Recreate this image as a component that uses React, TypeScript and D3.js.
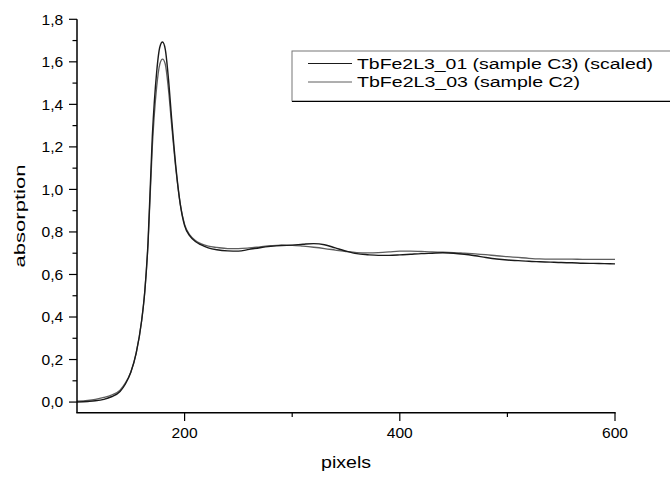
import * as d3 from "d3";

const xs = [100, 110, 117, 125, 132, 140, 145, 150, 155, 160, 163, 166, 170, 174, 177, 179.5, 182, 185, 188, 192, 196, 200, 205, 210, 215, 222, 230, 240, 250, 260, 270, 280, 290, 300, 310, 320, 330, 340, 350, 360, 370, 380, 390, 400, 410, 420, 430, 440, 450, 460, 470, 480, 490, 500, 510, 520, 530, 540, 550, 560, 570, 580, 590, 600];

const scaledC3 = [0.0, 0.003, 0.006, 0.013, 0.025, 0.05, 0.085, 0.14, 0.23, 0.38, 0.52, 0.75, 1.25, 1.55, 1.67, 1.693, 1.66, 1.52, 1.33, 1.1, 0.93, 0.83, 0.78, 0.755, 0.74, 0.725, 0.716, 0.711, 0.71, 0.718, 0.726, 0.732, 0.736, 0.738, 0.742, 0.745, 0.74, 0.725, 0.71, 0.698, 0.693, 0.69, 0.69, 0.692, 0.695, 0.698, 0.7, 0.702, 0.7, 0.695, 0.688, 0.68, 0.673, 0.668, 0.665, 0.662, 0.66, 0.658, 0.656, 0.655, 0.653, 0.652, 0.651, 0.65];

const sampleC2 = [0.004, 0.008, 0.013, 0.022, 0.033, 0.056, 0.09, 0.14, 0.23, 0.38, 0.52, 0.74, 1.2, 1.48, 1.59, 1.613, 1.59, 1.47, 1.3, 1.09, 0.93, 0.835, 0.785, 0.76, 0.745, 0.733, 0.727, 0.722, 0.722, 0.725, 0.73, 0.735, 0.738, 0.737, 0.733, 0.728, 0.722, 0.715, 0.708, 0.703, 0.702, 0.703, 0.706, 0.71, 0.71, 0.708, 0.706, 0.705, 0.703, 0.7, 0.697, 0.693, 0.688, 0.684, 0.68, 0.676, 0.673, 0.672, 0.672, 0.672, 0.671, 0.671, 0.671, 0.671];

const yTicks = [0, 0.2, 0.4, 0.6, 0.8, 1.0, 1.2, 1.4, 1.6, 1.8];
const xTicks = [200, 400, 600];
const seriesNames = ["TbFe2L3_01 (sample C3) (scaled)", "TbFe2L3_03 (sample C2)"];
// the source text is drawn wider than a plain Arial run, so widths are pinned
const legendWidths = [296, 223];

const font = "'Liberation Sans', Arial, sans-serif";

export default function App() {
  const x = d3.scaleLinear().domain([100, 600]).range([77, 615]);
  const y = d3.scaleLinear().domain([-0.05, 1.8]).range([412.7, 19.3]);

  const line = (vals: number[]) =>
    d3
      .line<number>()
      .x((_, i) => x(xs[i]))
      .y((v) => y(v))
      .curve(d3.curveMonotoneX)(vals) || "";

  const minorY = d3.range(0.1, 1.8, 0.2);
  const minorX = [300, 500];

  return (
    <svg width={670} height={479} style={{ position: "absolute", left: 0, top: 0 }} fontFamily={font}>
      <rect width={670} height={479} fill="#fff" />
      {/* data */}
      <path d={line(sampleC2)} fill="none" stroke="#5e5e5e" strokeWidth={1.3} />
      <path d={line(scaledC3)} fill="none" stroke="#1a1a1a" strokeWidth={1.4} />

      {/* y axis */}
      <line x1={77} x2={77} y1={y(1.8)} y2={y(-0.05)} stroke="#000" strokeWidth={1.5} />
      {yTicks.map((t) => (
        <g key={t}>
          <line x1={69} x2={77} y1={y(t)} y2={y(t)} stroke="#000" strokeWidth={1.2} />
          <text x={63.3} y={y(t)} dy="0.36em" textAnchor="end" fontSize={14.5} textLength={21.7} lengthAdjust="spacingAndGlyphs">
            {t.toFixed(1).replace(".", ",")}
          </text>
        </g>
      ))}
      {minorY.map((t) => (
        <line key={t} x1={72.5} x2={77} y1={y(t)} y2={y(t)} stroke="#000" strokeWidth={1.2} />
      ))}
      <text
        transform={`translate(25,${(y(1.8) + y(-0.05)) / 2}) rotate(-90)`}
        textAnchor="middle"
        fontSize={15.5}
        textLength={103}
        lengthAdjust="spacingAndGlyphs"
      >
        absorption
      </text>

      {/* x axis */}
      <line x1={76.3} x2={615.7} y1={412.7} y2={412.7} stroke="#000" strokeWidth={1.5} />
      {xTicks.map((t) => (
        <g key={t}>
          <line x1={x(t)} x2={x(t)} y1={412.7} y2={421} stroke="#000" strokeWidth={1.2} />
          <text x={x(t)} y={438} textAnchor="middle" fontSize={14.5} textLength={26} lengthAdjust="spacingAndGlyphs">
            {t}
          </text>
        </g>
      ))}
      {minorX.map((t) => (
        <line key={t} x1={x(t)} x2={x(t)} y1={412.7} y2={417} stroke="#000" strokeWidth={1.2} />
      ))}
      <text x={346} y={468} textAnchor="middle" fontSize={16} textLength={50} lengthAdjust="spacingAndGlyphs">
        pixels
      </text>

      {/* legend */}
      <rect x={292} y={51} width={400} height={50} fill="#fff" stroke="#777" strokeWidth={1} />
      <line x1={292} x2={670} y1={101.5} y2={101.5} stroke="#000" strokeWidth={1.2} />
      {seriesNames.map((name, i) => (
        <g key={name}>
          <line x1={308} x2={352} y1={63.5 + i * 18.5} y2={63.5 + i * 18.5} stroke={i === 0 ? "#1a1a1a" : "#5e5e5e"} strokeWidth={1} />
          <text x={357} y={68.5 + i * 18.5} fontSize={15.5} textLength={legendWidths[i]} lengthAdjust="spacingAndGlyphs">
            {name}
          </text>
        </g>
      ))}
    </svg>
  );
}
